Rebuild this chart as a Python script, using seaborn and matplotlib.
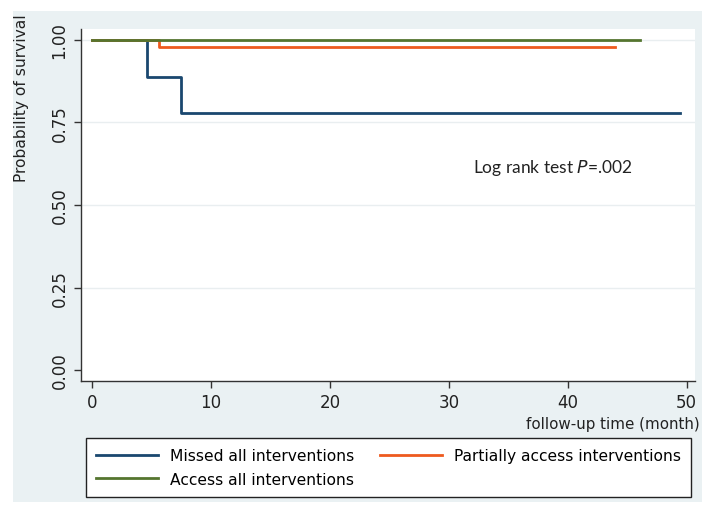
import matplotlib
matplotlib.use("Agg")
import matplotlib.pyplot as plt
from matplotlib.patches import Rectangle
from matplotlib.lines import Line2D
import numpy as np
import pandas as pd
import seaborn as sns

# Kaplan-Meier step estimates per group (time in months, survival probability)
groups = ["Missed all interventions", "Partially access interventions", "Access all interventions"]
missed_time = [0, 4.6, 7.5, 49.4]
missed_surv = [1.0, 0.889, 0.778, 0.778]
partial_time = [0, 5.6, 44.0]
partial_surv = [1.0, 0.98, 0.98]
access_time = [0, 46.1]
access_surv = [1.0, 1.0]

x_ticks = [0, 10, 20, 30, 40, 50]
y_ticks = [0.00, 0.25, 0.50, 0.75, 1.00]
y_tick_labels = ["0.00", "0.25", "0.50", "0.75", "1.00"]
annotation = "Log rank test $\\it{P}$=.002"

colors = {
    groups[0]: "#1a476f",
    groups[1]: "#ee5a1e",
    groups[2]: "#55752f",
}

frames = []
for name, t, s in [(groups[0], missed_time, missed_surv),
                   (groups[1], partial_time, partial_surv),
                   (groups[2], access_time, access_surv)]:
    frames.append(pd.DataFrame({"time": t, "survival": s, "group": name}))
df = pd.concat(frames, ignore_index=True)

W, H = 702, 510
fig = plt.figure(figsize=(W / 100, H / 100), dpi=100, facecolor="white")

# light panel behind the whole graph
bg = Rectangle((13 / W, 1 - 503 / H), (W - 13) / W, (503 - 12) / H,
               transform=fig.transFigure, facecolor="#eaf1f3",
               edgecolor="none", zorder=-10)
fig.patches.append(bg)

ax = fig.add_axes([81 / W, 1 - 382 / H, (695 - 81) / W, (382 - 30) / H])
ax.set_zorder(1)
ax.set_facecolor("white")

for y in [0.25, 0.5, 0.75, 1.0]:
    ax.axhline(y, color="#e9eef0", lw=1.0, zorder=1)

for name in groups:
    sub = df[df["group"] == name]
    sns.lineplot(data=sub, x="time", y="survival", ax=ax, drawstyle="steps-post",
                 color=colors[name], lw=2.0, estimator=None, legend=False, zorder=3)

ax.set_xlim(-0.93, 50.7)
ax.set_ylim(-0.033, 1.033)
ax.set_xticks(x_ticks)
ax.set_xticklabels([str(v) for v in x_ticks])
ax.set_yticks(y_ticks)
ax.set_yticklabels(y_tick_labels, rotation=90, va="center")
ax.tick_params(axis="both", length=5, width=1, color="#333333", labelsize=12,
               labelcolor="#222222", pad=4)
ax.set_xlabel("")
ax.set_ylabel("")
for side in ["top", "right"]:
    ax.spines[side].set_visible(False)
for side in ["left", "bottom"]:
    ax.spines[side].set_color("#333333")
    ax.spines[side].set_linewidth(1.0)

ax.text(32.0, 0.615, annotation, fontsize=12.5, family="Lato", va="center",
        ha="left", color="#222222")

fig.text(22 / W, 1 - 98 / H, "Probability of survival", rotation=90,
         ha="center", va="center", fontsize=11.2, color="#222222")
fig.text(700 / W, 1 - 425 / H, "follow-up time (month)", ha="right",
         va="center", fontsize=10.9, color="#222222")

handles = [Line2D([], [], color=colors[groups[0]], lw=2),
           Line2D([], [], color=colors[groups[2]], lw=2),
           Line2D([], [], color=colors[groups[1]], lw=2)]
labels = [groups[0], groups[2], groups[1]]
leg = fig.legend(handles, labels, ncol=2, loc="upper left",
                 bbox_to_anchor=(86 / W, 1 - 439 / H),
                 fontsize=11.2, frameon=True, fancybox=False,
                 edgecolor="#222222", facecolor="white", framealpha=1,
                 handlelength=4.0, handletextpad=0.75, borderpad=0.65,
                 labelspacing=0.55, columnspacing=1.65, borderaxespad=0)
leg.get_frame().set_linewidth(1.0)
leg.set_zorder(5)

fig.savefig("out.png", dpi=100, facecolor="white")
